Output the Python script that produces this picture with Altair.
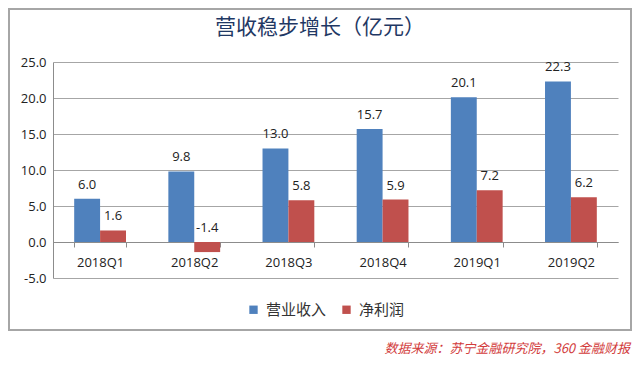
import altair as alt
import pandas as pd

categories = ["2018Q1", "2018Q2", "2018Q3", "2018Q4", "2019Q1", "2019Q2"]
revenue = [6.0, 9.8, 13.0, 15.7, 20.1, 22.3]
profit = [1.6, -1.4, 5.8, 5.9, 7.2, 6.2]
series_names = ["营业收入", "净利润"]
colors = ["#4F81BD", "#C0504D"]
y_ticks = [-5, 0, 5, 10, 15, 20, 25]
title_text = "营收稳步增长（亿元）"
source_text = "数据来源：苏宁金融研究院，360 金融财报"

rows = []
for c, r, p in zip(categories, revenue, profit):
    rows.append({"cat": c, "series": series_names[0], "value": r, "label": f"{r:.1f}"})
    rows.append({"cat": c, "series": series_names[1], "value": p, "label": f"{p:.1f}"})
df = pd.DataFrame(rows)

W, H = 565, 216

x_axis = alt.Axis(
    orient="bottom", offset=-36, labelAngle=0, labelFontSize=13,
    labelFont="Open Sans", labelColor="#222222", labelPadding=9,
    domainColor="#8C8C8C", tickColor="#8C8C8C", tickSize=5,
    tickBand="extent", grid=False,
)
y_axis = alt.Axis(
    values=y_ticks, tickCount=7,
    labelExpr="datum.value < 0 ? '-' + format(-datum.value, '.1f') : format(datum.value, '.1f')",
    labelOverlap=False, labelFlush=False, labelFontSize=13,
    labelFont="Open Sans", labelColor="#222222",
    labelPadding=7, ticks=False, domainColor="#8C8C8C",
    gridColor="#A6A6A6", grid=True,
)
x_scale = alt.Scale(paddingInner=0.45, paddingOuter=0.225)
y_scale = alt.Scale(domain=[-5, 25], nice=False)
xo_enc = alt.XOffset("series:N", sort=series_names, scale=alt.Scale(paddingInner=0, paddingOuter=0))

bars = alt.Chart(df).mark_bar().encode(
    x=alt.X("cat:N", sort=categories, title=None, scale=x_scale, axis=x_axis),
    xOffset=xo_enc,
    y=alt.Y("value:Q", scale=y_scale, title=None, axis=y_axis),
    color=alt.Color("series:N", sort=series_names,
                    scale=alt.Scale(domain=series_names, range=colors),
                    legend=alt.Legend(
                        title=None, orient="none", direction="horizontal",
                        legendX=193, legendY=240, symbolType="square",
                        symbolSize=70, symbolStrokeWidth=0, labelFontSize=15,
                        labelFont="Noto Sans CJK SC", labelColor="#333333",
                        columnPadding=12, labelOffset=5, padding=0)),
)

labels = alt.Chart(df).transform_calculate(
    value="max(datum.value, 0)"
).mark_text(baseline="bottom", dy=-7, fontSize=13, font="Open Sans", color="#222222").encode(
    x=alt.X("cat:N", sort=categories, title=None, scale=x_scale, axis=x_axis),
    xOffset=xo_enc,
    y=alt.Y("value:Q", scale=y_scale, title=None, axis=y_axis),
    text=alt.Text("label:N"),
)

border = alt.Chart(pd.DataFrame({"a": [0]})).mark_rect(
    fill=None, stroke="#A6A6A6", strokeWidth=2, clip=False
).encode(
    x=alt.value(-44), x2=alt.value(578), y=alt.value(-53), y2=alt.value(268)
)

title = alt.Chart(pd.DataFrame({"t": [title_text]})).mark_text(
    fontSize=21, font="Noto Sans CJK SC", color="#1F3864", baseline="middle", align="center"
).encode(x=alt.value(267), y=alt.value(-34), text="t:N")

source = alt.Chart(pd.DataFrame({"t": [source_text]})).mark_text(
    fontSize=13, font="Noto Sans CJK SC", color="#D23C3C", fontStyle="italic",
    baseline="middle", align="right"
).encode(x=alt.value(577), y=alt.value(287), text="t:N")

chart = alt.layer(border, bars, labels, title, source).properties(
    width=W, height=H,
    autosize=alt.AutoSizeParams(type="none"),
    padding={"left": 45, "top": 54, "right": 14, "bottom": 80},
    background="white",
).configure_view(strokeWidth=0)

chart.save("out.html", embed_options={"renderer": "svg", "actions": False})
